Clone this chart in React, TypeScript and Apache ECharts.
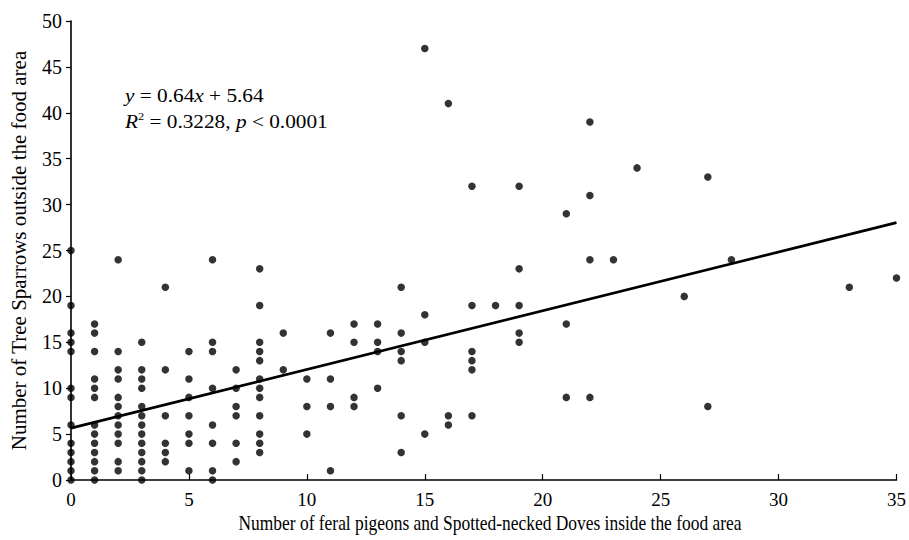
import React, { useEffect, useRef } from "react";
import * as echarts from "echarts";

// x categories (number of pigeons/doves) and the sparrow counts observed at each
const xColumns = [0, 1, 2, 3, 4, 5, 6, 7, 8, 9, 10, 11, 12, 13, 14, 15, 16, 17, 18, 19, 21, 22, 23, 24, 26, 27, 28, 33, 35];
const yByColumn = [
  [0, 1, 2, 3, 4, 6, 9, 10, 14, 15, 16, 19, 25],
  [0, 1, 2, 3, 4, 5, 6, 9, 10, 11, 14, 16, 17],
  [1, 2, 4, 5, 6, 7, 8, 9, 11, 12, 14, 24],
  [0, 1, 2, 3, 4, 5, 6, 7, 8, 10, 11, 12, 15],
  [2, 3, 4, 7, 12, 21],
  [1, 4, 5, 7, 9, 11, 14],
  [0, 1, 4, 6, 10, 14, 15, 24],
  [2, 4, 7, 8, 10, 12],
  [3, 4, 5, 7, 9, 10, 11, 13, 14, 15, 19, 23],
  [12, 16],
  [5, 8, 11],
  [1, 8, 11, 16],
  [8, 9, 15, 17],
  [10, 14, 15, 17],
  [3, 7, 13, 14, 16, 21],
  [5, 15, 18, 47],
  [6, 7, 41],
  [7, 12, 13, 14, 19, 32],
  [19],
  [15, 16, 19, 23, 32],
  [9, 17, 29],
  [9, 24, 31, 39],
  [24],
  [34],
  [20],
  [8, 33],
  [24],
  [21],
  [22],
];

const slope = 0.64;
const intercept = 5.64;
const fitRange = [0, 35];

const xTicks = { min: 0, max: 35, interval: 5 };
const yTicks = { min: 0, max: 50, interval: 5 };

const xTitle = "Number of feral pigeons and Spotted-necked Doves inside the food area";
const yTitle = "Number of Tree Sparrows outside the food area";

const FONT = "'Liberation Serif', 'Times New Roman', serif";

export default function App() {
  const ref = useRef<HTMLDivElement>(null);
  useEffect(() => {
    if (!ref.current) return;
    const chart = echarts.init(ref.current, null, { renderer: "svg" });
    const points: number[][] = [];
    xColumns.forEach((x, i) => yByColumn[i].forEach((y) => points.push([x, y])));
    const fit = fitRange.map((x) => [x, slope * x + intercept]);
    const italic = { fontStyle: "italic", fontFamily: FONT, fontSize: 19, fill: "#000" };
    chart.setOption({
      animation: false,
      backgroundColor: "#fff",
      grid: { left: 71, right: 12, top: 21, bottom: 60, containLabel: false },
      xAxis: {
        type: "value",
        min: xTicks.min,
        max: xTicks.max,
        interval: xTicks.interval,
        axisLine: { show: true, onZero: false, lineStyle: { color: "#000", width: 1.6 } },
        axisTick: { show: true, inside: true, length: 6, lineStyle: { color: "#000", width: 1.2 } },
        axisLabel: { color: "#000", fontFamily: FONT, fontSize: 19, margin: 10 },
        splitLine: { show: false },
      },
      yAxis: {
        type: "value",
        min: yTicks.min,
        max: yTicks.max,
        interval: yTicks.interval,
        name: yTitle,
        nameLocation: "middle",
        nameGap: 42,
        nameRotate: 90,
        nameTextStyle: { color: "#000", fontFamily: FONT, fontSize: 21 },
        axisLine: { show: true, onZero: false, lineStyle: { color: "#000", width: 1.6 } },
        axisTick: { show: true, inside: false, length: 5, lineStyle: { color: "#000", width: 1.2 } },
        axisLabel: { color: "#000", fontFamily: FONT, fontSize: 20, margin: 9 },
        splitLine: { show: false },
      },
      series: [
        {
          type: "line",
          data: fit,
          showSymbol: false,
          symbol: "none",
          lineStyle: { color: "#000", width: 2.8 },
          z: 2,
        },
        {
          type: "scatter",
          data: points,
          symbol: "circle",
          symbolSize: 7.5,
          itemStyle: { color: "#000" },
          z: 3,
        },
      ],
      graphic: [
        {
          type: "text",
          x: 490,
          y: 523,
          scaleX: 0.83,
          style: {
            text: xTitle,
            fontFamily: FONT,
            fontSize: 21,
            fill: "#000",
            align: "center",
            verticalAlign: "middle",
          },
        },
        {
          type: "text",
          x: 125,
          y: 95,
          scaleX: 1.12,
          style: {
            text: "{i|y} = 0.64{i|x} + 5.64",
            fontFamily: FONT,
            fontSize: 19,
            fill: "#000",
            verticalAlign: "middle",
            rich: { i: italic },
          },
        },
        {
          type: "text",
          x: 125,
          y: 121,
          scaleX: 1.12,
          style: {
            text: "{i|R}{s|2} = 0.3228, {i|p} < 0.0001",
            fontFamily: FONT,
            fontSize: 19,
            fill: "#000",
            verticalAlign: "middle",
            rich: {
              i: italic,
              s: { fontFamily: FONT, fontSize: 11, fill: "#000", verticalAlign: "top", padding: [0, 0, 8, 0] },
            },
          },
        },
      ],
    });
    return () => chart.dispose();
  }, []);
  return (
    <div
      ref={ref}
      style={{ position: "fixed", left: 0, top: 0, width: 909, height: 540, overflow: "visible" }}
    />
  );
}
